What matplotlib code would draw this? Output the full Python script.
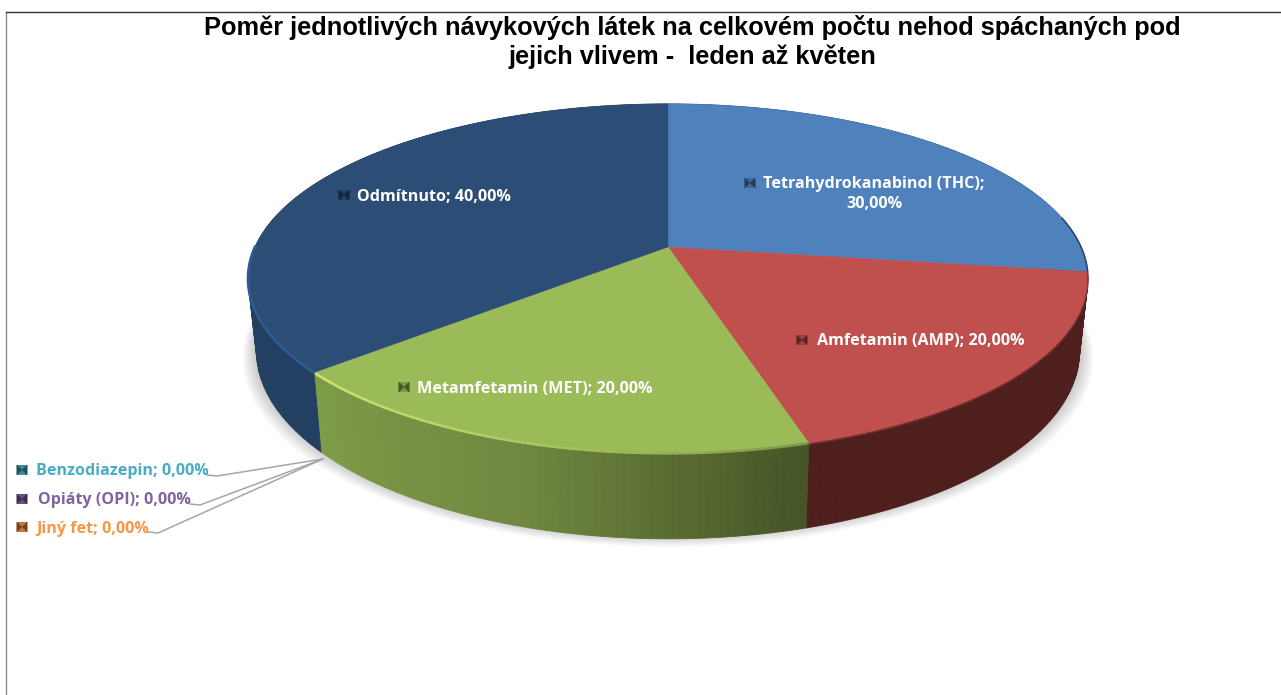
import numpy as np
import matplotlib
matplotlib.use("Agg")
import matplotlib.pyplot as plt
from matplotlib.colors import to_rgb

title = "Poměr jednotlivých návykových látek na celkovém počtu nehod spáchaných pod\njejich vlivem -  leden až květen"
categories = ["Tetrahydrokanabinol (THC)", "Amfetamin (AMP)", "Metamfetamin (MET)",
              "Benzodiazepin", "Opiáty (OPI)", "Jiný fet", "Odmítnuto"]
values = [30.0, 20.0, 20.0, 0.0, 0.0, 0.0, 40.0]
top_colors = ["#4f81bd", "#c0504d", "#9bbb59", "#4bacc6", "#8064a2", "#f79646", "#2c4d75"]
side_colors = [["#2b4a70", "#2b4a70"], ["#4e1f1d", "#4e1f1d"], ["#465426", "#6f8740", "#7f9c48"],
               ["#4bacc6"], ["#8064a2"], ["#f79646"], ["#233f62", "#233f62"]]
# label centre / anchor in pixels
label_pos = [(874, 194), (921, 341), (535, 389), (122, 471), (114, 500), (93, 529), (434, 197)]
marker_pos = [(750, 183), (802, 340), (404, 387), (22, 470), (22, 499), (22, 527), (344, 195)]
text_colors = ["white", "white", "white", "#4bacc6", "#8064a2", "#f79646", "white"]

CX, CY = 668, 247
A, B, K = 413, 169, 0.181
DEPTH = 70


def project(t):
    u, v = np.sin(t), np.cos(t)
    w = 1 + K * v
    return CX + A * u / w, CY - B * v / w, w


def project_bottom(t):
    x, y, w = project(t)
    return CX + (x - CX) * 0.98, y + DEPTH / w


def blend(stops, f):
    stops = [np.array(to_rgb(c)) for c in stops]
    if len(stops) == 1:
        return stops[0]
    pos = f * (len(stops) - 1)
    i = min(int(pos), len(stops) - 2)
    return stops[i] + (stops[i + 1] - stops[i]) * (pos - i)


fig = plt.figure(figsize=(12.81, 6.95), dpi=100)
ax = fig.add_axes([0, 0, 1, 1])
ax.set_xlim(0, 1281)
ax.set_ylim(695, 0)
ax.axis("off")

# chart frame
ax.plot([6, 6], [12, 695], color="#8c8c8c", lw=1)
ax.plot([6, 1281], [12, 12], color="#333333", lw=1)

edges = np.concatenate([[0], np.cumsum(values)]) / np.sum(values) * 2 * np.pi

# soft shadow under the pie
full = np.linspace(0, 2 * np.pi, 300)
bx, by = project_bottom(full)
for i in range(14, 0, -1):
    ax.fill(CX + (bx - CX) * (1 + 0.0024 * i), by + 0.8 * i - 3,
            color="black", alpha=0.016, lw=0)

# side walls, cut in thin strips so the shading can vary along the rim
for i in range(len(values)):
    if values[i] == 0:
        continue
    ts = np.linspace(edges[i], edges[i + 1], 61)
    for j in range(60):
        seg = np.linspace(ts[j], ts[j + 1], 3)
        x1, y1, _ = project(seg)
        x2, y2 = project_bottom(seg)
        c = blend(side_colors[i], j / 59)
        ax.fill(np.r_[x1, x2[::-1]], np.r_[y1, y2[::-1]], color=c, lw=0.6)

# top faces
for i in range(len(values)):
    if values[i] == 0:
        continue
    ts = np.linspace(edges[i], edges[i + 1], 200)
    x, y, _ = project(ts)
    ax.fill(np.r_[CX, x], np.r_[CY, y], color=top_colors[i], lw=0.3)

# lit bevel along the front rim
green = np.linspace(edges[2], edges[3], 60)
gx, gy, _ = project(green)
for j in range(59):
    f = j / 58
    ax.plot(gx[j:j + 2], gy[j:j + 2], color=blend(["#7d9646", "#9bbb59", "#b9d465", "#cfe57a"], f),
            lw=1.8, solid_capstyle="round")
blue = np.linspace(edges[6], np.deg2rad(270), 60)
ux, uy, _ = project(blue)
ax.plot(ux, uy, color="#2f5a8f", lw=2)
red = np.linspace(edges[1], edges[2], 80)
rx, ry, _ = project(red)
ax.plot(rx, ry + 1, color="#7d3633", lw=1.2, alpha=0.7)
tx, ty, _ = project(np.linspace(np.deg2rad(80), edges[1], 40))
ax.plot(tx, ty, color="#2b4a70", lw=1.2)

# leader lines for the empty slices, they all start on the rim
ax_x, ax_y = project_bottom(edges[3])
line_ends = [(207, 475), (190, 504), (148, 532)]
for (lx, ly) in line_ends:
    ax.plot([lx, lx + 10, ax_x + 2], [ly, ly + 1, ax_y + 7], color="#a6a6a6", lw=1.1)

# data labels
for i in range(len(values)):
    txt = f"{categories[i]}; {values[i]:.2f}%".replace(".", ",")
    if i == 0:
        txt = txt.replace("; ", ";\n")
    ax.text(label_pos[i][0], label_pos[i][1], txt, ha="center", va="center", color=text_colors[i],
            fontsize=11.6, fontweight="bold", family="Open Sans", linespacing=1.3)
    mx, my = marker_pos[i]
    base = np.array(to_rgb(top_colors[i]))
    ax.scatter([mx], [my], marker="s", s=62, color=base * 0.8, lw=0)
    dark = base * 0.45
    ax.fill([mx - 5.5, mx, mx - 5.5], [my - 5.5, my, my + 5.5], color=dark, lw=0)
    ax.fill([mx + 5.5, mx, mx + 5.5], [my - 5.5, my, my + 5.5], color=dark, lw=0)

ax.text(692, 42, title, ha="center", va="center", fontsize=18.3, fontweight="bold",
        family="Liberation Sans", color="black", linespacing=1.18)

fig.savefig("out.png", dpi=100)
